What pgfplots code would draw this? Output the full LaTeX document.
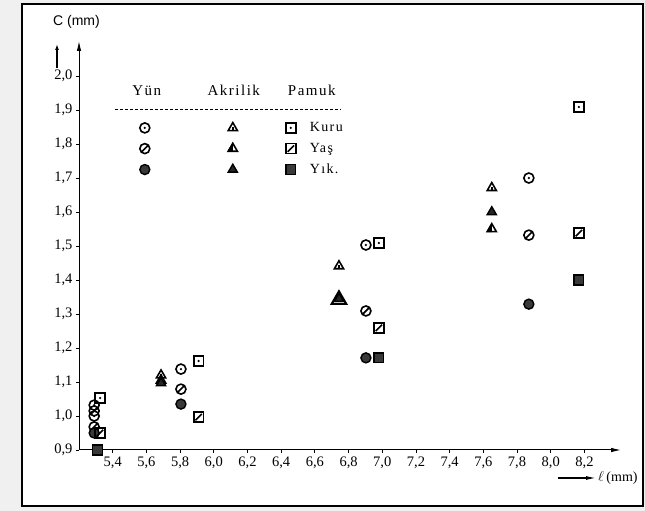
\documentclass[border=0pt]{standalone}
\usepackage{fontspec}
\setmainfont{Liberation Serif}
\newfontfamily\sansf{Liberation Sans}
\newfontfamily\spc[LetterSpace=10]{Liberation Serif}
\usepackage{pgfplots}
\pgfplotsset{compat=1.18}
\usetikzlibrary{arrows.meta}

\pgfdeclareplotmark{odot}{%
  \pgfpathcircle{\pgfpointorigin}{\pgfplotmarksize}\pgfusepathqstroke
  \pgfpathcircle{\pgfpointorigin}{0.25\pgfplotmarksize}\pgfusepathqfill}
\pgfdeclareplotmark{oslash}{%
  \pgfpathcircle{\pgfpointorigin}{\pgfplotmarksize}%
  \pgfpathmoveto{\pgfpoint{-0.7\pgfplotmarksize}{-0.7\pgfplotmarksize}}%
  \pgfpathlineto{\pgfpoint{0.7\pgfplotmarksize}{0.7\pgfplotmarksize}}%
  \pgfusepathqstroke}
\pgfdeclareplotmark{tribar}{%
  \pgfuseplotmark{triangle}%
  \pgfpathmoveto{\pgfpoint{0pt}{-0.6\pgfplotmarksize}}%
  \pgfpathlineto{\pgfpoint{0pt}{0.15\pgfplotmarksize}}%
  \pgfusepathqstroke}
\pgfdeclareplotmark{trihalf}{%
  \pgfpathmoveto{\pgfqpointpolar{90}{1.2\pgfplotmarksize}}%
  \pgfpathlineto{\pgfqpointpolar{210}{1.2\pgfplotmarksize}}%
  \pgfpathlineto{\pgfpoint{0pt}{-0.6\pgfplotmarksize}}%
  \pgfpathclose\pgfusepathqfill
  \pgfuseplotmark{triangle}}
\pgfdeclareplotmark{sqdot}{%
  \pgfuseplotmark{square}%
  \pgfpathcircle{\pgfpointorigin}{0.25\pgfplotmarksize}\pgfusepathqfill}
\pgfdeclareplotmark{sqslash}{%
  \pgfuseplotmark{square}%
  \pgfpathmoveto{\pgfpoint{-0.65\pgfplotmarksize}{-0.65\pgfplotmarksize}}%
  \pgfpathlineto{\pgfpoint{0.65\pgfplotmarksize}{0.65\pgfplotmarksize}}%
  \pgfusepathqstroke}

\pgfplotsset{
  yk/.style={only marks, black, mark=odot, mark size=5pt, mark options={solid, line width=1.6pt, fill=black}},
  yy/.style={only marks, black, mark=oslash, mark size=5pt, mark options={solid, line width=1.6pt}},
  yi/.style={only marks, black, mark=*, mark size=5pt, mark options={solid, line width=1.4pt, fill=gray!45!black}},
  ak/.style={only marks, black, mark=tribar, mark size=5.3pt, mark options={solid, line width=1.6pt}},
  ay/.style={only marks, black, mark=trihalf, mark size=5.3pt, mark options={solid, line width=1.6pt, fill=black}},
  ai/.style={only marks, black, mark=triangle*, mark size=5.3pt, mark options={solid, line width=1.4pt, fill=gray!30!black}},
  pk/.style={only marks, black, mark=sqdot, mark size=4.9pt, mark options={solid, line width=1.6pt, fill=black}},
  py/.style={only marks, black, mark=sqslash, mark size=4.9pt, mark options={solid, line width=1.6pt}},
  pi/.style={only marks, black, mark=square*, mark size=4.9pt, mark options={solid, line width=1.4pt, fill=gray!45!black}},
  limg/.style={legend image code/.code={\path[draw=none, fill=none] (-6pt,-6pt) rectangle (6pt,6pt); \draw[##1] plot coordinates {(0pt,0pt)}; #1}},
}

\begin{document}
\begin{tikzpicture}
\fill[gray!12] (0pt,0pt) rectangle (645pt,511pt);
\fill[white] (22pt,5pt) rectangle (643pt,507pt);
\draw[line width=1.6pt] (22pt,5pt) rectangle (643pt,507pt);
\begin{axis}[
  at={(79pt,61pt)}, anchor=south west,
  scale only axis, width=542pt, height=409pt,
  xmin=5.2, xmax=8.417, ymin=0.9, ymax=2.103,
  axis lines=left,
  axis line style={line width=1pt, -{Latex[length=10pt,width=4.5pt]}},
  xtick={5.4,5.6,5.8,6.0,6.2,6.4,6.6,6.8,7.0,7.2,7.4,7.6,7.8,8.0,8.2},
  ytick={0.9,1.0,1.1,1.2,1.3,1.4,1.5,1.6,1.7,1.8,1.9,2.0},
  tick style={black, line width=0.8pt}, major tick length=3pt, tick align=outside,
  ticklabel style={font=\fontsize{14.5}{16}\selectfont},
  /pgf/number format/use comma, /pgf/number format/fixed,
  /pgf/number format/fixed zerofill, /pgf/number format/precision=1,
  /pgf/number format/assume math mode=true,
  ylabel={\sansf C (mm)},
  ylabel style={rotate=-90, at={(axis description cs:-0.048,1.046)}, anchor=west, font=\fontsize{14}{16}\selectfont, inner sep=0pt},
  legend columns=3,
  legend style={draw=none, fill=none, at={(axis cs:5.555,1.866)}, anchor=north west,
    inner sep=0pt, outer sep=0pt,
    nodes={inner sep=1pt, font=\spc\fontsize{14}{16}\selectfont},
    /tikz/column 2/.style={column sep=74pt},
    /tikz/column 4/.style={column sep=44pt},
    /tikz/column 5/.style={column sep=12pt},
    row sep=8pt},
  legend cell align=left,
  clip=false,
]
% Yun
\addplot[yk, forget plot] coordinates {(5.29,1.032) (5.29,1.0) (5.805,1.138) (6.903,1.503) (7.87,1.70)};
\addplot[yy, forget plot] coordinates {(5.29,1.015) (5.29,0.968) (5.805,1.079) (6.903,1.309) (7.87,1.532)};
\addplot[yi, forget plot] coordinates {(5.29,0.95) (5.805,1.035) (6.903,1.171) (7.87,1.329)};
% Akrilik
\addplot[ak, forget plot] coordinates {(5.687,1.12) (6.743,1.441) (7.65,1.671)};
\addplot[ay, forget plot] coordinates {(5.687,1.105) (7.65,1.55)};
\addplot[only marks, black, mark=triangle, mark size=8.5pt, mark options={solid, line width=2pt}, forget plot] coordinates {(6.743,1.342)};
\addplot[ai, forget plot] coordinates {(5.687,1.097) (6.743,1.345) (7.65,1.60)};
% Pamuk
\addplot[pk, forget plot] coordinates {(5.325,1.053) (5.91,1.162) (6.98,1.509) (8.167,1.909)};
\addplot[py, forget plot] coordinates {(5.325,0.95) (5.91,0.997) (6.98,1.259) (8.167,1.538)};
\addplot[pi, forget plot] coordinates {(5.31,0.90) (6.98,1.171) (8.167,1.40)};
% legend
\addlegendimage{yk, limg={\node[overlay, anchor=center, font=\spc\fontsize{15}{17}\selectfont] at (2pt,37pt) {Yün};}}
\addlegendentry{}
\addlegendimage{ak, limg={\node[overlay, anchor=center, font=\spc\fontsize{15}{17}\selectfont] at (1pt,37pt) {Akrilik};
   \draw[overlay, densely dashed, line width=0.8pt] (-118pt,19pt) -- (108pt,19pt);}}
\addlegendentry{}
\addlegendimage{pk, limg={\node[overlay, anchor=center, font=\spc\fontsize{15}{17}\selectfont] at (21pt,37pt) {Pamuk};}}
\addlegendentry{Kuru}
\addlegendimage{yy, limg={}}
\addlegendentry{}
\addlegendimage{ay, limg={}}
\addlegendentry{}
\addlegendimage{py, limg={}}
\addlegendentry{Yaş}
\addlegendimage{yi, limg={}}
\addlegendentry{}
\addlegendimage{ai, limg={}}
\addlegendentry{}
\addlegendimage{pi, limg={}}
\addlegendentry{Yık.}
\end{axis}
\draw[line width=1.6pt, -{Latex[length=6pt,width=4pt]}] (57pt,443pt) -- (57pt,467pt);
\draw[line width=1.2pt, -{Latex[length=10pt,width=4pt]}] (558pt,33pt) -- (596pt,33pt);
\node[anchor=west, inner sep=0pt, font=\fontsize{14}{16}\selectfont] at (598pt,33pt) {$\ell$\,(mm)};
\end{tikzpicture}
\end{document}
